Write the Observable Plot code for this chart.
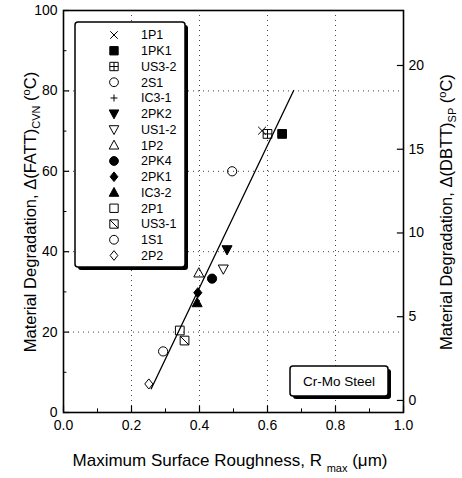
<!DOCTYPE html>
<html>
<head>
<meta charset="utf-8">
<script src="https://cdn.jsdelivr.net/npm/d3@7"></script>
<script src="https://cdn.jsdelivr.net/npm/@observablehq/plot@0.6"></script>
<style>
  html, body { margin: 0; padding: 0; background: #fff; }
  #chart { width: 462px; height: 478px; }
  svg { font-family: "Liberation Sans", Arial, sans-serif; }
</style>
</head>
<body>
<div id="chart"></div>
<script>
// ---- Data ----
const seriesNames = ["1P1","1PK1","US3-2","2S1","IC3-1","2PK2","US1-2","1P2","2PK4","2PK1","IC3-2","2P1","US3-1","1S1","2P2"];
const rmax = [0.584, 0.643, 0.600, 0.496, 0.395, 0.481, 0.470, 0.398, 0.437, 0.395, 0.393, 0.342, 0.356, 0.293, 0.251];
const fattCvn = [70.1, 69.3, 69.3, 60.0, 29.8, 40.5, 35.7, 34.7, 33.3, 29.8, 27.3, 20.4, 17.9, 15.2, 7.1];
const fitX = [0.258, 0.677];
const fitY = [5.9, 80.1];
const xTicks = [0, 0.2, 0.4, 0.6, 0.8, 1.0];
const xMinor = [0.1, 0.3, 0.5, 0.7, 0.9];
const yTicks = [0, 20, 40, 60, 80, 100];
const yMinor = [10, 30, 50, 70, 90];
const rightTicks = [0, 5, 10, 15, 20];
const gridX = [0.2, 0.4, 0.6, 0.8];
const gridY = [20, 40, 60, 80];
// right axis conversion: FATT = offset + factor * DBTT
const dbttOffset = 3.0, dbttFactor = 4.166;

// ---- Marker styles (per series) ----
const markerStyle = {
  "1P1": ["times", false], "1PK1": ["square", true], "US3-2": ["squarePlus", false],
  "2S1": ["circle", false], "IC3-1": ["plus", false], "2PK2": ["triangleDown", true],
  "US1-2": ["triangleDown", false], "1P2": ["triangle", false], "2PK4": ["circle", true],
  "2PK1": ["diamond", true], "IC3-2": ["triangle", true], "2P1": ["square", false],
  "US3-1": ["squareX", false], "1S1": ["circle", false], "2P2": ["diamond", false]
};
const rad = s => Math.sqrt(s / Math.PI);
const symbols = {
  times: {draw(c, s) { const r = rad(s) * 0.85; c.moveTo(-r, -r); c.lineTo(r, r); c.moveTo(-r, r); c.lineTo(r, -r); }},
  plus: {draw(c, s) { const r = rad(s) * 0.8; c.moveTo(-r, 0); c.lineTo(r, 0); c.moveTo(0, -r); c.lineTo(0, r); }},
  square: {draw(c, s) { const r = rad(s) * 0.95; c.rect(-r, -r, 2 * r, 2 * r); }},
  squarePlus: {draw(c, s) { const r = rad(s) * 0.95; c.rect(-r, -r, 2 * r, 2 * r); c.moveTo(-r, 0); c.lineTo(r, 0); c.moveTo(0, -r); c.lineTo(0, r); }},
  squareX: {draw(c, s) { const r = rad(s) * 0.95; c.rect(-r, -r, 2 * r, 2 * r); c.moveTo(-r, -r); c.lineTo(r, r); }},
  circle: {draw(c, s) { const r = rad(s); c.moveTo(r, 0); c.arc(0, 0, r, 0, 2 * Math.PI); c.closePath(); }},
  triangle: {draw(c, s) { const r = rad(s) * 1.15; c.moveTo(0, -r); c.lineTo(r * 0.95, r * 0.75); c.lineTo(-r * 0.95, r * 0.75); c.closePath(); }},
  triangleDown: {draw(c, s) { const r = rad(s) * 1.15; c.moveTo(0, r); c.lineTo(r * 0.95, -r * 0.75); c.lineTo(-r * 0.95, -r * 0.75); c.closePath(); }},
  diamond: {draw(c, s) { const r = rad(s) * 1.1; c.moveTo(0, -r); c.lineTo(r * 0.8, 0); c.lineTo(0, r); c.lineTo(-r * 0.8, 0); c.closePath(); }}
};

const points = seriesNames.map((n, i) => ({name: n, x: rmax[i], y: fattCvn[i]}));
const fit = fitX.map((x, i) => ({x, y: fitY[i]}));
const FONT = '"Liberation Sans", Arial, sans-serif';

const dotMarks = points.map(p => {
  const [sym, filled] = markerStyle[p.name];
  return Plot.dot([p], {
    x: "x", y: "y", r: 4.6, symbol: symbols[sym],
    fill: filled ? "black" : "none", stroke: "black", strokeWidth: 1
  });
});

const plot = Plot.plot({
  width: 462, height: 478,
  marginLeft: 63, marginRight: 59, marginTop: 10, marginBottom: 66,
  style: {fontFamily: FONT, fontSize: "14px", color: "black", background: "white"},
  x: {domain: [0, 1], label: null},
  y: {domain: [0, 100], label: null},
  marks: [
    Plot.ruleX(gridX, {x: d => d, stroke: "#444", strokeDasharray: "1,4", strokeWidth: 1}),
    Plot.ruleY(gridY, {y: d => d, stroke: "#444", strokeDasharray: "1,4", strokeWidth: 1}),
    // inward ticks
    Plot.ruleX(xTicks, {x: d => d, y1: 0, y2: 1.6, stroke: "black", strokeWidth: 1.2}),
    Plot.ruleX(xMinor, {x: d => d, y1: 0, y2: 0.9, stroke: "black", strokeWidth: 1}),
    Plot.ruleY(yTicks, {y: d => d, x1: 0, x2: 0.018, stroke: "black", strokeWidth: 1.2}),
    Plot.ruleY(yMinor, {y: d => d, x1: 0, x2: 0.01, stroke: "black", strokeWidth: 1}),
    Plot.ruleY(rightTicks.map(r => dbttOffset + dbttFactor * r), {y: d => d, x1: 0.982, x2: 1, stroke: "black", strokeWidth: 1.2}),
    Plot.axisX(xTicks, {tickSize: 0, tickPadding: 8, tickFormat: d3.format(".1f"), fontSize: 14}),
    Plot.axisY(yTicks, {anchor: "left", tickSize: 0, tickPadding: 6, fontSize: 14}),
    Plot.axisY(rightTicks.map(r => dbttOffset + dbttFactor * r), {
      anchor: "right", tickSize: 0, tickPadding: 5, fontSize: 14,
      tickFormat: d => String(Math.round((d - dbttOffset) / dbttFactor))
    }),
    Plot.frame({stroke: "black", strokeWidth: 1.6}),
    Plot.line(fit, {x: "x", y: "y", stroke: "black", strokeWidth: 1.3}),
    ...dotMarks
  ]
});
document.getElementById("chart").appendChild(plot);

// ---- Overlays: legend, annotation box, axis titles ----
const svg = d3.select(plot);
const g = svg.append("g").attr("font-family", FONT).attr("fill", "black").attr("text-anchor", "start");

// Legend box with drop shadow
const lx = 75, ly = 22, lw = 110, lh = 245;
g.append("rect").attr("x", lx + 3).attr("y", ly + 3).attr("width", lw).attr("height", lh).attr("rx", 3).attr("fill", "black");
g.append("rect").attr("x", lx).attr("y", ly).attr("width", lw).attr("height", lh).attr("rx", 3).attr("fill", "white").attr("stroke", "black").attr("stroke-width", 1.5);
seriesNames.forEach((n, i) => {
  const yy = 35 + i * 15.75;
  const [sym, filled] = markerStyle[n];
  g.append("path")
    .attr("d", d3.symbol(symbols[sym], Math.PI * 4.4 * 4.4)())
    .attr("transform", `translate(114,${yy})`)
    .attr("fill", filled ? "black" : "none").attr("stroke", "black").attr("stroke-width", 1);
  g.append("text").attr("x", 141).attr("y", yy).attr("dy", "0.35em")
    .attr("text-anchor", "start").attr("font-size", 12.5).text(n);
});

// Cr-Mo Steel box
const bx = 290, by = 366, bw = 98, bh = 30;
g.append("rect").attr("x", bx + 3).attr("y", by + 3).attr("width", bw).attr("height", bh).attr("rx", 3).attr("fill", "black");
g.append("rect").attr("x", bx).attr("y", by).attr("width", bw).attr("height", bh).attr("rx", 3).attr("fill", "white").attr("stroke", "black").attr("stroke-width", 1.5);
g.append("text").attr("x", bx + bw / 2).attr("y", by + bh / 2).attr("dy", "0.35em")
  .attr("text-anchor", "middle").attr("font-size", 13.5).text("Cr-Mo Steel");

// Left axis title
const lt = g.append("text").attr("transform", "translate(36,212) rotate(-90)")
  .attr("text-anchor", "middle").attr("font-size", 16.5);
lt.append("tspan").text("Material Degradation, \u0394(FATT)");
lt.append("tspan").attr("font-size", 11).attr("dy", 4).text("CVN");
lt.append("tspan").attr("dy", -4).text(" (");
lt.append("tspan").attr("font-size", 11).attr("dy", -6).text("o");
lt.append("tspan").attr("dy", 6).text("C)");

// Right axis title
const rt = g.append("text").attr("transform", "translate(452,212) rotate(-90)")
  .attr("text-anchor", "middle").attr("font-size", 16.5);
rt.append("tspan").text("Material Degradation, \u0394(DBTT)");
rt.append("tspan").attr("font-size", 11).attr("dy", 4).text("SP");
rt.append("tspan").attr("dy", -4).text(" (");
rt.append("tspan").attr("font-size", 11).attr("dy", -6).text("o");
rt.append("tspan").attr("dy", 6).text("C)");

// Bottom axis title
const bt = g.append("text").attr("x", 230).attr("y", 466)
  .attr("text-anchor", "middle").attr("font-size", 17);
bt.append("tspan").text("Maximum Surface Roughness, R ");
bt.append("tspan").attr("font-size", 11).attr("dy", 6).text("max");
bt.append("tspan").attr("dy", -6).text(" (\u03bcm)");
</script>
</body>
</html>
